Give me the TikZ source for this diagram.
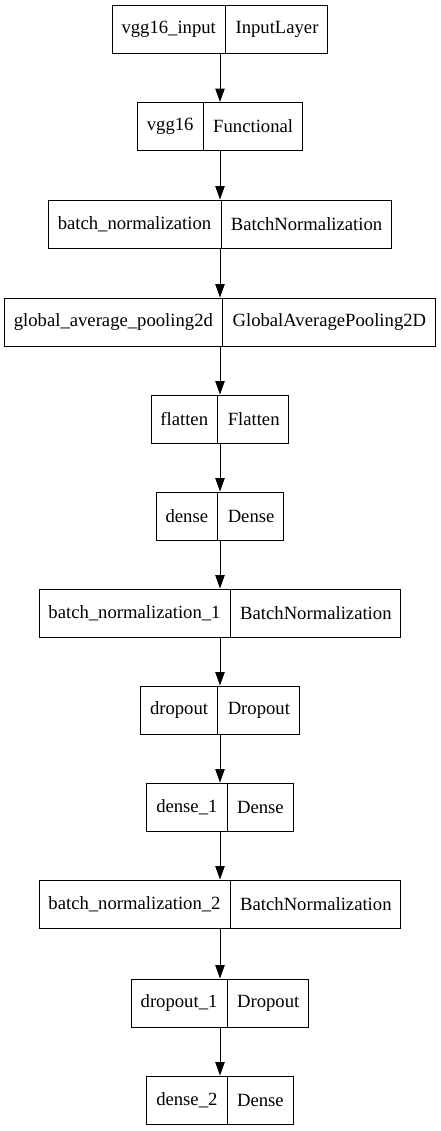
\documentclass[tikz,border=0pt]{standalone}
\usepackage{fontspec}
\setmainfont{Liberation Serif}
\usepackage{tikz}
\usetikzlibrary{shapes.multipart,arrows.meta}

\begin{document}
\begin{tikzpicture}[x=0.75pt, y=-0.75pt, font=\fontsize{14}{16.8}\selectfont]
    % Define styles
    \tikzstyle{layer} = [rectangle split, rectangle split horizontal, rectangle split parts=2, draw, line width=0.75pt, inner xsep=7pt, minimum height=36pt]
    \tikzstyle{flow} = [-{Triangle[length=10pt,width=7pt]}, line width=0.75pt]

    \useasboundingbox (0,0) rectangle (441,1131);

    % Input and backbone
    \node[layer] (input) at (220,29.5) {vgg16\_input \nodepart{two} InputLayer};
    \node[layer] (vgg) at (220,126.5) {vgg16 \nodepart{two} Functional};
    \node[layer] (bn) at (220,224) {batch\_normalization \nodepart{two} BatchNormalization};
    \node[layer] (gap) at (220,322) {global\_average\_pooling2d \nodepart{two} GlobalAveragePooling2D};
    \node[layer] (flatten) at (220,419) {flatten \nodepart{two} Flatten};

    % Head
    \node[layer] (dense) at (220,516) {dense \nodepart{two} Dense};
    \node[layer] (bn1) at (220,613) {batch\_normalization\_1 \nodepart{two} BatchNormalization};
    \node[layer] (drop) at (220,710) {dropout \nodepart{two} Dropout};
    \node[layer] (dense1) at (220,807) {dense\_1 \nodepart{two} Dense};
    \node[layer] (bn2) at (220,904) {batch\_normalization\_2 \nodepart{two} BatchNormalization};
    \node[layer] (drop1) at (220,1003) {dropout\_1 \nodepart{two} Dropout};
    \node[layer] (dense2) at (220,1100) {dense\_2 \nodepart{two} Dense};

    % Arrows
    \draw[flow] (input) -- (vgg);
    \draw[flow] (vgg) -- (bn);
    \draw[flow] (bn) -- (gap);
    \draw[flow] (gap) -- (flatten);
    \draw[flow] (flatten) -- (dense);
    \draw[flow] (dense) -- (bn1);
    \draw[flow] (bn1) -- (drop);
    \draw[flow] (drop) -- (dense1);
    \draw[flow] (dense1) -- (bn2);
    \draw[flow] (bn2) -- (drop1);
    \draw[flow] (drop1) -- (dense2);
\end{tikzpicture}
\end{document}
